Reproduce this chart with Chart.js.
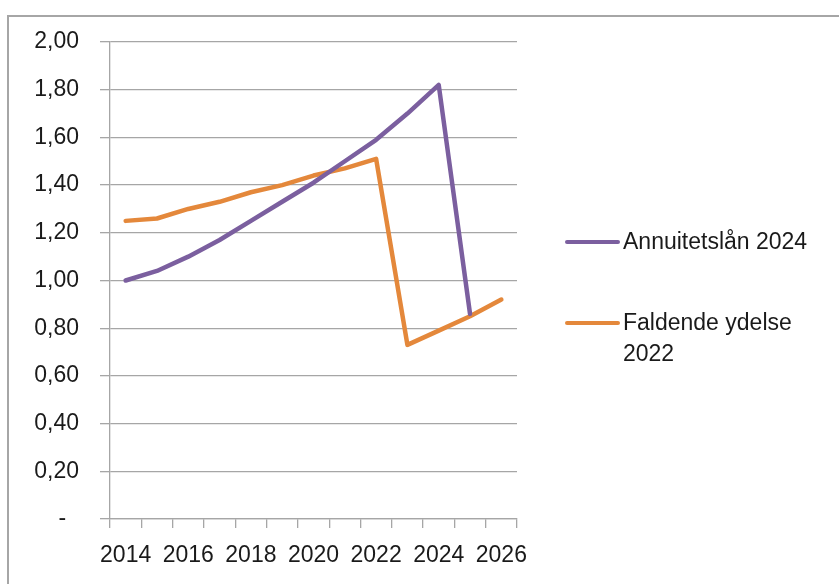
<!DOCTYPE html>
<html>
<head>
<meta charset="utf-8">
<script src="https://cdn.jsdelivr.net/npm/chart.js@4/dist/chart.umd.min.js"></script>
<style>
  html, body { margin: 0; padding: 0; background: #fff; }
  #wrap { position: relative; width: 839px; height: 584px; overflow: hidden; }
  #frame { position: absolute; left: 7px; top: 15px; width: 900px; height: 700px; border: 2px solid #a6a6a6; box-sizing: border-box; }
  canvas { position: absolute; left: 0; top: 0; }
  .leg { position: absolute; left: 565px; font-family: "Liberation Sans", Arial, sans-serif; font-size: 23px; color: #1a1a1a; line-height: 31px; }
  .leg .sw { position: absolute; left: 0; width: 55px; height: 4px; border-radius: 2px; }
  .leg .tx { position: absolute; left: 58px; white-space: nowrap; }
</style>
</head>
<body>
<div id="wrap">
  <div id="frame"></div>
  <canvas id="chart" width="839" height="584"></canvas>
  <div class="leg" id="leg1" style="top:242px"></div>
  <div class="leg" id="leg2" style="top:323px"></div>
</div>
<script>
// Data
const years = ['2014', '2015', '2016', '2017', '2018', '2019', '2020', '2021', '2022', '2023', '2024', '2025', '2026'];
const annuitet = [1.00, 1.04, 1.10, 1.17, 1.25, 1.33, 1.41, 1.50, 1.59, 1.70, 1.82, 0.86, null];
const faldende = [1.25, 1.26, 1.30, 1.33, 1.37, 1.40, 1.44, 1.47, 1.51, 0.73, 0.79, 0.85, 0.92];
const seriesNames = ['Annuitetslån 2024', 'Faldende ydelse\n2022'];
const seriesColors = ['#7b5f9f', '#e4883b'];

const font = { family: '"Liberation Sans", Arial, sans-serif', size: 23 };
const gridGray = '#a6a6a6';

// html legend (second label wraps over two lines)
[['leg1', 0], ['leg2', 1]].forEach(([id, i]) => {
  const el = document.getElementById(id);
  const lines = seriesNames[i].split('\n');
  el.innerHTML = `<span class="sw" style="background:${seriesColors[i]};top:-2px"></span>` +
    lines.map((t, k) => `<span class="tx" style="top:${k * 31 - 16}px">${t}</span>`).join('');
});

new Chart(document.getElementById('chart').getContext('2d'), {
  type: 'line',
  data: {
    labels: years,
    datasets: [
      { label: seriesNames[0], data: annuitet, borderColor: seriesColors[0], borderWidth: 4.5, pointRadius: 0, tension: 0, borderJoinStyle: 'round', borderCapStyle: 'round' },
      { label: seriesNames[1], data: faldende, borderColor: seriesColors[1], borderWidth: 4.5, pointRadius: 0, tension: 0, borderJoinStyle: 'round', borderCapStyle: 'round' }
    ]
  },
  options: {
    responsive: false,
    animation: false,
    layout: { padding: { left: 0, top: 42, right: 322, bottom: 0 } },
    plugins: { legend: { display: false }, tooltip: { enabled: false } },
    scales: {
      x: {
        offset: true,
        grid: { offset: true, drawOnChartArea: false, drawTicks: true, tickLength: 9, color: gridGray, lineWidth: 1.3 },
        border: { color: gridGray, width: 1.3 },
        ticks: {
          autoSkip: false, maxRotation: 0, padding: 14, color: '#1a1a1a', font,
          callback: (v, i) => (i % 2 === 0 ? years[i] : '')
        },
        afterFit: (s) => { s.height = 65; }
      },
      y: {
        min: 0, max: 2,
        grid: { color: gridGray, lineWidth: 1.3, tickLength: 10 },
        border: { color: gridGray, width: 1.3 },
        ticks: {
          stepSize: 0.2, padding: 21, color: '#1a1a1a', font,
          callback: (v) => (Math.abs(v) < 1e-9 ? '-  ' : v.toFixed(2).replace('.', ','))
        },
        afterFit: (s) => { s.width = 110; }
      }
    }
  }
});
</script>
</body>
</html>
